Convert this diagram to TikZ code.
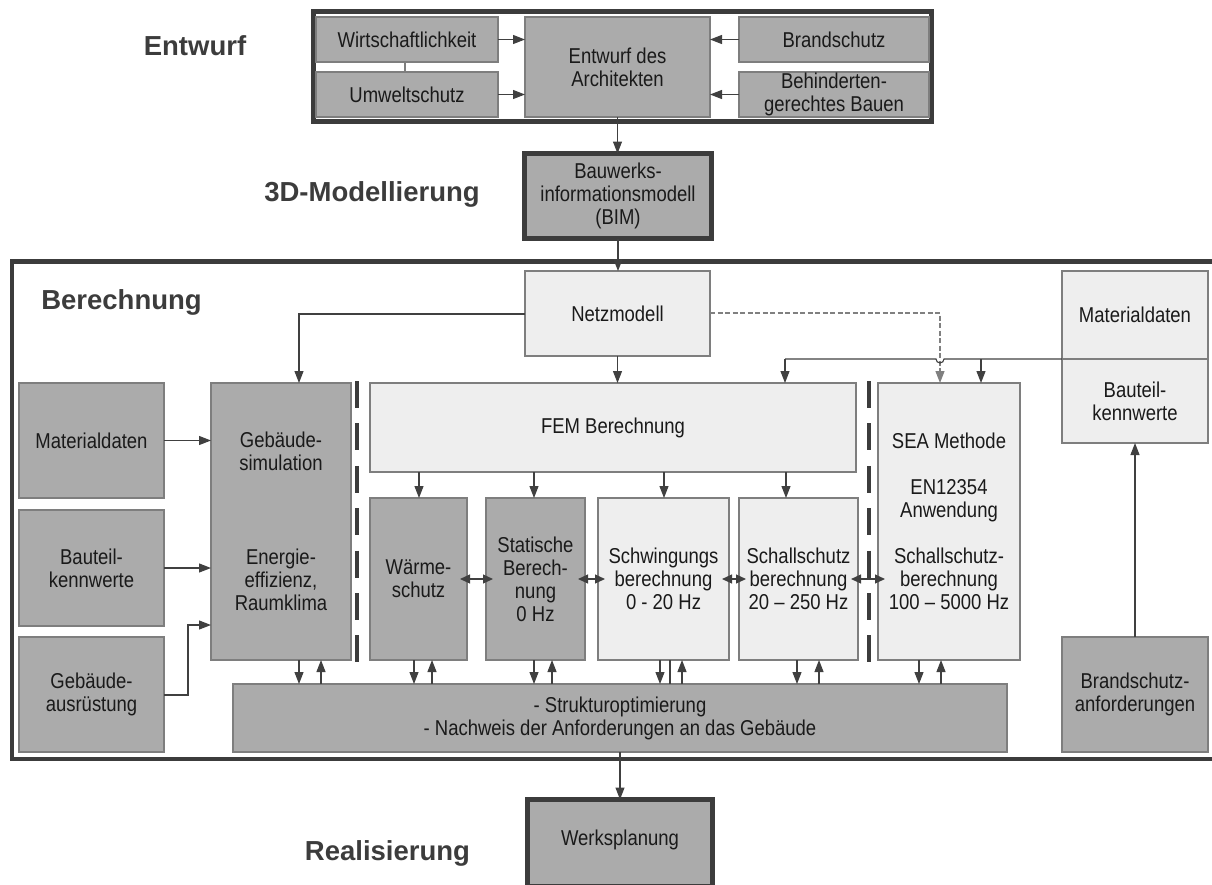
\documentclass[tikz,border=0pt]{standalone}
\usepackage{fontspec}
\setmainfont{Liberation Sans}
\newfontfamily\boxfont{Liberation Sans}[FakeStretch=0.86]
\usetikzlibrary{arrows.meta,calc}
\definecolor{dk}{HTML}{ABABAB}
\definecolor{lt}{HTML}{EEEEEE}
\definecolor{bd}{HTML}{7E7E7E}
\definecolor{fr}{HTML}{3C3C3C}
\definecolor{ln}{HTML}{404040}
\definecolor{tx}{HTML}{1A1A1A}
\tikzset{
 box/.style={draw=bd, line width=1.3pt, inner sep=0pt, outer sep=0pt, align=center, text=tx, font=\boxfont\fontsize{21.5}{23}\selectfont},
 dbox/.style={box, fill=dk},
 lbox/.style={box, fill=lt},
 frame/.style={draw=fr, line width=4.5pt, inner sep=0pt, outer sep=0pt},
 tbox/.style={dbox, draw=fr, line width=5pt},
 arr/.style={draw=ln, line width=1.1pt, -{Triangle[length=12pt,width=9pt]}},
 darr/.style={draw=ln, line width=1.1pt, {Triangle[length=10pt,width=9pt]}-{Triangle[length=10pt,width=9pt]}, shorten <=-7pt, shorten >=-7pt},
 plain/.style={draw=ln, line width=1.1pt},
 sepline/.style={draw=fr, line width=3.5pt, dash pattern=on 27pt off 15.4pt},
 dsh/.style={draw=gray, line width=1.1pt, dash pattern=on 5pt off 2.5pt, -{Triangle[length=12pt,width=9pt]}},
 phase/.style={font=\bfseries\fontsize{27.5}{30}\selectfont, text=fr, inner sep=0pt, anchor=base}
}
\begin{document}
\begin{tikzpicture}[x=1pt,y=-1pt]
\useasboundingbox (0,0) rectangle (1212,884);
% phase labels
\node[phase] (lEntwurf) at (195,55) {Entwurf};
\node[phase] (lModell) at (372,201) {3D-Modellierung};
\node[phase] (lBerech) at (121.5,309) {Berechnung};
\node[phase] (lReal) at (387.5,860) {Realisierung};
% frames
\node[frame, minimum width=618pt, minimum height=110pt] (ef) at (622.5,66.5) {};
\node[frame, minimum width=1202pt, minimum height=497.5pt] (bf) at (613,510.25) {};
% top
\node[dbox, minimum width=182pt, minimum height=45pt] (wirt) at (407,39.5) {Wirtschaftlichkeit};
\node[dbox, minimum width=182pt, minimum height=45pt] (umw) at (407,94.5) {Umweltschutz};
\node[dbox, minimum width=185pt, minimum height=100pt] (arch) at (617.5,67) {Entwurf des\\Architekten};
\node[dbox, minimum width=190pt, minimum height=45pt] (brand) at (834,39.5) {Brandschutz};
\node[dbox, minimum width=190pt, minimum height=45pt] (behind) at (834,94.5) {Behinderten-\\gerechtes Bauen};
\node[tbox, minimum width=187pt, minimum height=85pt] (bim) at (618,196) {Bauwerks-\\informationsmodell\\(BIM)};
% Berechnung
\node[lbox, minimum width=185pt, minimum height=85pt] (netz) at (617.5,313.5) {Netzmodell};
\node[dbox, minimum width=145pt, minimum height=115pt] (mat) at (91.5,440.5) {Materialdaten};
\node[dbox, minimum width=145pt, minimum height=116pt] (bau) at (91.5,568) {Bauteil-\\kennwerte};
\node[dbox, minimum width=145pt, minimum height=115pt] (ausr) at (91.5,694.5) {Gebäude-\\ausrüstung};
\node[dbox, minimum width=140pt, minimum height=277pt] (geb) at (281,521.5) {};
\node[box, draw=none] (gebA) at (281,451.5) {Gebäude-\\simulation};
\node[box, draw=none] (gebB) at (281,580) {Energie-\\effizienz,\\Raumklima};
\node[lbox, minimum width=486pt, minimum height=89pt] (fem) at (613,427.5) {FEM Berechnung};
\node[dbox, minimum width=97pt, minimum height=162pt] (waerme) at (418.5,579) {Wärme-\\schutz};
\node[dbox, minimum width=99pt, minimum height=162pt] (stat) at (535.5,579) {Statische\\Berech-\\nung\\0 Hz};
\node[lbox, minimum width=131pt, minimum height=162pt] (schw) at (663.5,579) {Schwingungs\\berechnung\\0 - 20 Hz};
\node[lbox, minimum width=119pt, minimum height=162pt] (schall) at (798.5,579) {Schallschutz\\berechnung\\20 – 250 Hz};
\node[lbox, minimum width=142pt, minimum height=277pt] (sea) at (949,521.5) {SEA Methode\\~\\EN12354\\Anwendung\\~\\Schallschutz-\\berechnung\\100 – 5000 Hz};
\node[lbox, minimum width=146pt, minimum height=88pt] (mat2) at (1135,315) {Materialdaten};
\node[lbox, minimum width=146pt, minimum height=84pt] (bau2) at (1135,401) {Bauteil-\\kennwerte};
\node[dbox, minimum width=146pt, minimum height=115pt] (brand2) at (1135,694.5) {Brandschutz-\\anforderungen};
\node[dbox, minimum width=774pt, minimum height=68pt] (bot) at (620,718) {- Strukturoptimierung\\- Nachweis der Anforderungen an das Gebäude};
\node[tbox, minimum width=185pt, minimum height=87pt] (werks) at (620,843) {};
\node[box, draw=none] (werksT) at (620,840) {Werksplanung};
% separators
\coordinate (s1a) at (357,381); \coordinate (s1b) at (357,662);
\coordinate (s2a) at (869,381); \coordinate (s2b) at (869,662);
\draw[sepline] (s1a) -- (s1b);
\draw[sepline] (s2a) -- (s2b);
% top connectors
\draw[arr] (wirt.east) -- (wirt.east -| arch.west);
\draw[arr] (umw.east) -- (umw.east -| arch.west);
\draw[arr] (brand.west) -- (brand.west -| arch.east);
\draw[arr] (behind.west) -- (behind.west -| arch.east);
\coordinate (wu) at (405,0);
\draw[draw=bd, line width=1.1pt] (wu |- wirt.south) -- (wu |- umw.north);
\draw[arr] (arch.south) -- (arch.south |- bim.north);
\draw[arr] (bim.south) -- (bim.south |- netz.north);
% Netzmodell connectors
\coordinate (nl) at (299,314);
\draw[arr] (nl -| netz.west) -- (nl) -- (nl |- geb.north);
\draw[arr] (netz.south) -- (netz.south |- fem.north);
\coordinate (nd) at (940,313);
\draw[dsh] (nd -| netz.east) -- (nd) -- (nd |- sea.north);
% material data right
\coordinate (h1) at (785,359); \coordinate (h2) at (981,359); \coordinate (hp) at (944,359);
\draw[plain] (bau2.north west) -- (hp) arc[start angle=0, end angle=-180, radius=4pt] -- (h1);
\draw[arr] (h1) -- (h1 |- fem.north);
\draw[arr] (h2) -- (h2 |- sea.north);
\draw[arr] (brand2.north) -- (bau2.south);
% left inputs
\draw[arr] (mat.east) -- (mat.east -| geb.west);
\draw[arr] (bau.east) -- (bau.east -| geb.west);
\coordinate (ga) at (188,695); \coordinate (gb) at (188,625);
\draw[arr] (ga -| ausr.east) -- (ga) -- (gb) -- (gb -| geb.west);
% FEM to sub boxes
\foreach \n/\x in {waerme/419, stat/534, schw/664, schall/786} {
  \coordinate (fc) at (\x,0);
  \draw[arr] (fc |- fem.south) -- (fc |- \n.north);
}
% double arrows
\draw[darr] (waerme.east) -- (waerme.east -| stat.west);
\draw[darr] (stat.east) -- (stat.east -| schw.west);
\draw[darr] (schw.east) -- (schw.east -| schall.west);
\draw[darr] (schall.east) -- (schall.east -| sea.west);
% pairs to bottom box
\foreach \n/\xd/\xu in {geb/299/321, waerme/414/432, stat/534/552, schw/660/682, schall/797/819, sea/919/941} {
  \coordinate (pd) at (\xd,0); \coordinate (pu) at (\xu,0);
  \draw[arr] (pd |- \n.south) -- (pd |- bot.north);
  \draw[arr] (pu |- bot.north) -- (pu |- \n.south);
}
\coordinate (sl) at (670,0);
\draw[plain] (sl |- schw.south) -- (sl |- bot.north);
\draw[arr] (bot.south) -- (bot.south |- werks.north);
\end{tikzpicture}
\end{document}
